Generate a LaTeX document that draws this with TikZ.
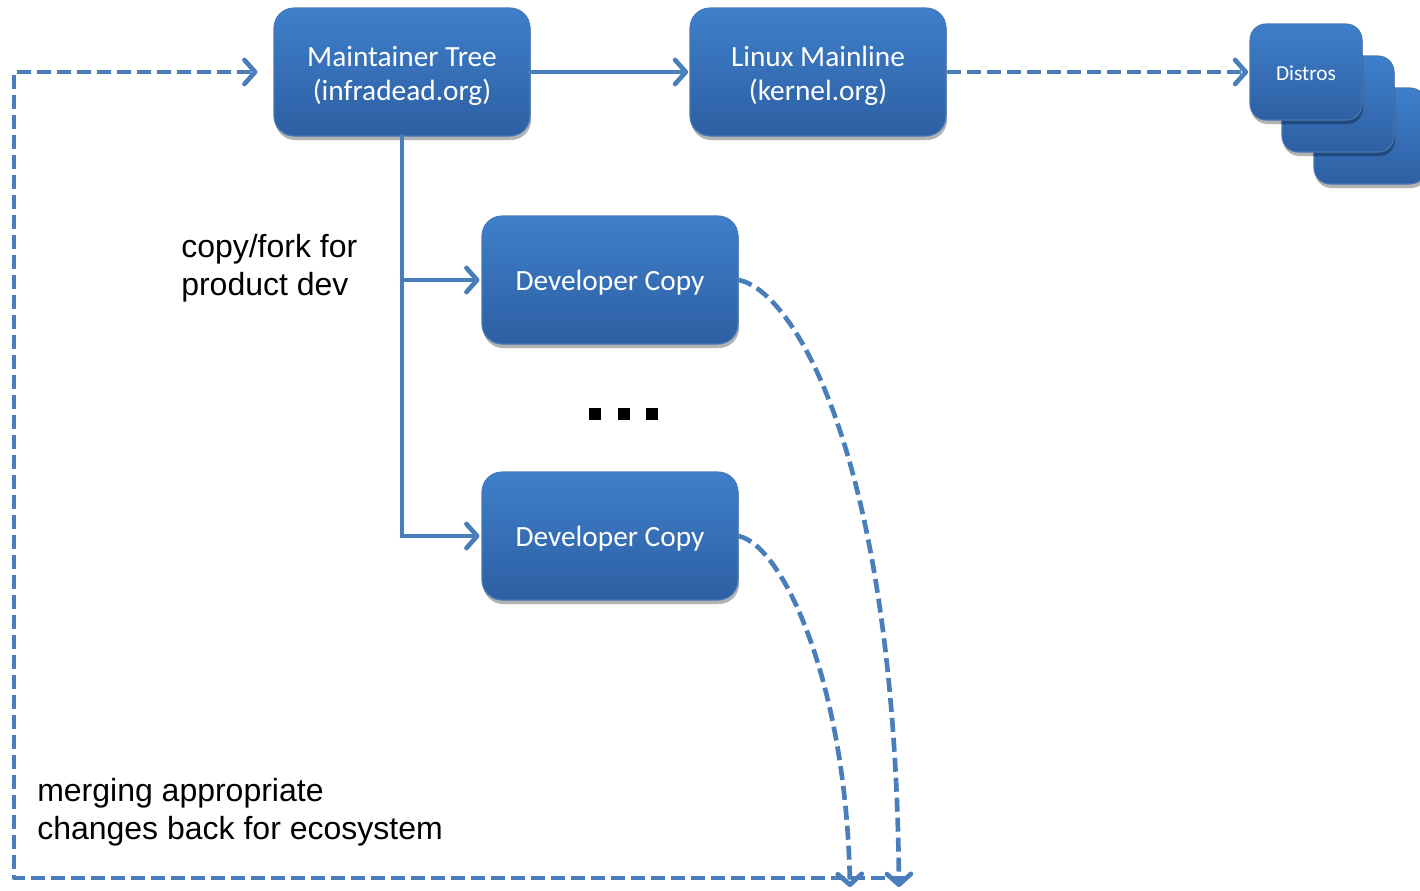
\documentclass[tikz,border=0pt]{standalone}
\usepackage{fontspec}
\setmainfont{Liberation Sans}
\newfontfamily\boxfont{Carlito}
\usetikzlibrary{arrows.meta,shadows}
\definecolor{boxtop}{RGB}{62,127,203}
\definecolor{boxbot}{RGB}{45,95,162}
\definecolor{boxedge}{RGB}{70,120,185}
\definecolor{linec}{RGB}{74,126,187}
\tikzset{
  box/.style={rectangle, rounded corners=15pt, minimum width=192pt, minimum height=96pt,
    top color=boxtop, bottom color=boxbot, draw=boxedge, line width=0.8pt, text=white,
    font=\boxfont\fontsize{22}{25.5}\selectfont, align=center, text height=19pt, text depth=4pt,
    drop shadow={shadow xshift=0.8pt, shadow yshift=-3pt, opacity=0.3, fill=black}},
  twobox/.style={box, text height=46pt, text depth=4pt},
  smallbox/.style={box, minimum width=84pt, minimum height=72pt, rounded corners=12pt,
    font=\boxfont\fontsize{16}{19}\selectfont, text height=15pt, text depth=2pt},
  conn/.style={draw=linec, line width=3.5pt, line cap=round, line join=round},
  tipped/.style={conn, -{Straight Barb[length=8pt,width=18pt,round]}},
  dashedconn/.style={conn, line cap=butt, dash pattern=on 10.5pt off 4.5pt},
  dashedtip/.style={dashedconn, -{Straight Barb[length=8pt,width=18pt,round]}},
  lbl/.style={font=\fontsize{24}{28.5}\selectfont, align=left, inner sep=0pt, anchor=north west}
}
\begin{document}
\begin{tikzpicture}[x=0.75pt, y=-0.75pt]
\useasboundingbox (0,0) rectangle (1420,890);

% distros stack
\node[smallbox] (d3) at (1370,136) {};
\node[smallbox] (d2) at (1338,104) {};
\node[smallbox] (d1) at (1306,72) {Distros};

\node[twobox] (mt) at (402,72) {Maintainer Tree\\(infradead.org)};
\node[twobox] (lm) at (818,72) {Linux Mainline\\(kernel.org)};
\node[box] (dv1) at (610,280) {Developer Copy};
\node[box] (dv2) at (610,536) {Developer Copy};

% dots
\node[inner sep=0pt, minimum size=0pt] (dots) at (624,414) {};
\fill (589,408) rectangle (601,420);
\fill (618,408) rectangle (630,420);
\fill (646,408) rectangle (658,420);

% labels
\node[lbl] (lfork) at (181,234) {copy/fork for\\product dev};
\node[lbl] (lmerge) at (37,778) {merging appropriate\\changes back for ecosystem};

% connectors
\coordinate (e1) at (899,887);
\coordinate (e2) at (850,887);
\coordinate (br) at (905,878);
\coordinate (bl) at (14,878);
\coordinate (tl) at (14,72);

\draw[tipped, shorten >=1pt] (mt.east) -- (lm.west);
\draw[dashedtip, shorten >=1pt] (lm.east) -- (d1.west);
\draw[conn] (mt.south) -- (mt.south |- dv2.west);
\draw[tipped, shorten >=1.5pt] (mt.south |- dv1.west) -- (dv1.west);
\draw[tipped, shorten >=1.5pt] (mt.south |- dv2.west) -- (dv2.west);

\draw[dashedtip] (dv1.east) .. controls (792,290) and (895,450) .. (e1);
\draw[dashedtip] (dv2.east) .. controls (782,545) and (846,680) .. (e2);

\draw[dashedtip, shorten >=12pt] (br) -- (bl) -- (tl) -- (mt.west);
\end{tikzpicture}
\end{document}
